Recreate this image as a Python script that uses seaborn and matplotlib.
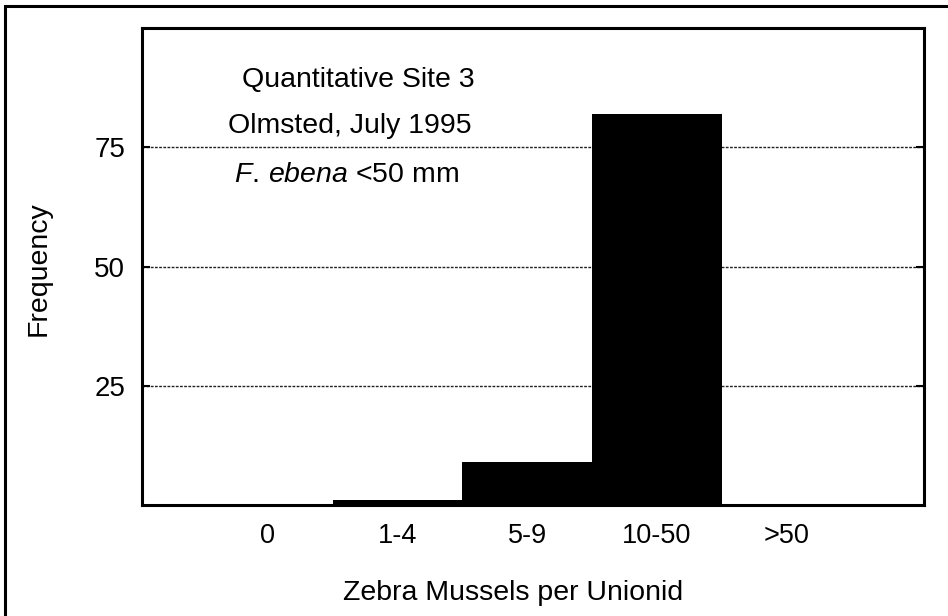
import matplotlib
matplotlib.use("Agg")
import matplotlib.pyplot as plt
from matplotlib.patches import Rectangle
import pandas as pd
import seaborn as sns

CATEGORIES = ["0", "1-4", "5-9", "10-50", ">50"]
FREQUENCY = [0, 1, 9, 82, 0]
Y_TICKS = [25, 50, 75]
INFO_LINES = ["Quantitative Site 3", "Olmsted, July 1995"]


def main() -> None:
    sns.set_style("white")
    plt.rcParams["font.family"] = ["Liberation Sans", "DejaVu Sans"]
    plt.rcParams["mathtext.fontset"] = "custom"
    plt.rcParams["mathtext.rm"] = "Liberation Sans"
    plt.rcParams["mathtext.it"] = "Liberation Sans:italic"
    plt.rcParams["text.color"] = "black"
    plt.rcParams["axes.labelcolor"] = "black"
    plt.rcParams["xtick.color"] = "black"
    plt.rcParams["ytick.color"] = "black"

    df = pd.DataFrame({"cls": CATEGORIES, "freq": FREQUENCY})

    fig = plt.figure(figsize=(9.48, 6.16), dpi=100)
    ax = fig.add_axes([0.1498, 0.1802, 0.8249, 0.7743])

    # dotted horizontal grid behind the bars
    for y in Y_TICKS:
        ax.axhline(y, color="#222222", lw=1.0, ls=(0, (2, 1)), zorder=0)

    sns.barplot(
        data=df, x="cls", y="freq", order=CATEGORIES,
        color="black", width=1.0, saturation=1, ax=ax, zorder=2,
        edgecolor="black", linewidth=0,
    )
    ax.set_xlim(-0.97, 5.06)
    ax.set_ylim(0, 100)
    ax.set_yticks(Y_TICKS)

    ax.set_xlabel("Zebra Mussels per Unionid", fontsize=20.5)
    ax.set_ylabel("Frequency", fontsize=20.5)
    ax.xaxis.set_label_coords(0.474, -0.157)
    ax.yaxis.set_label_coords(-0.116, 0.495)
    ax.tick_params(axis="x", length=0, labelsize=19.5, pad=13)
    ax.tick_params(axis="y", direction="in", length=6, width=1.5,
                   labelsize=20, pad=12, right=True, left=True)

    for s in ax.spines.values():
        s.set_visible(True)
        s.set_color("black")
        s.set_linewidth(2.2)

    # annotation block
    ax.text(0.70, 87.6, INFO_LINES[0], ha="center", va="baseline", fontsize=20.5)
    ax.text(0.63, 78.0, INFO_LINES[1], ha="center", va="baseline", fontsize=20.5)
    ax.text(0.61, 67.7, r"$\mathit{F.\,ebena}$ <50 mm", ha="center",
            va="baseline", fontsize=20.5)

    # outer frame of the scanned figure (only top and left edges visible)
    fig.add_artist(Rectangle((5 / 948, -0.1), 1.2, 1.1 - 6 / 616,
                             transform=fig.transFigure, fill=False,
                             lw=2.2, ec="black", clip_on=False))

    fig.savefig("out.png", dpi=100)


if __name__ == "__main__":
    main()
